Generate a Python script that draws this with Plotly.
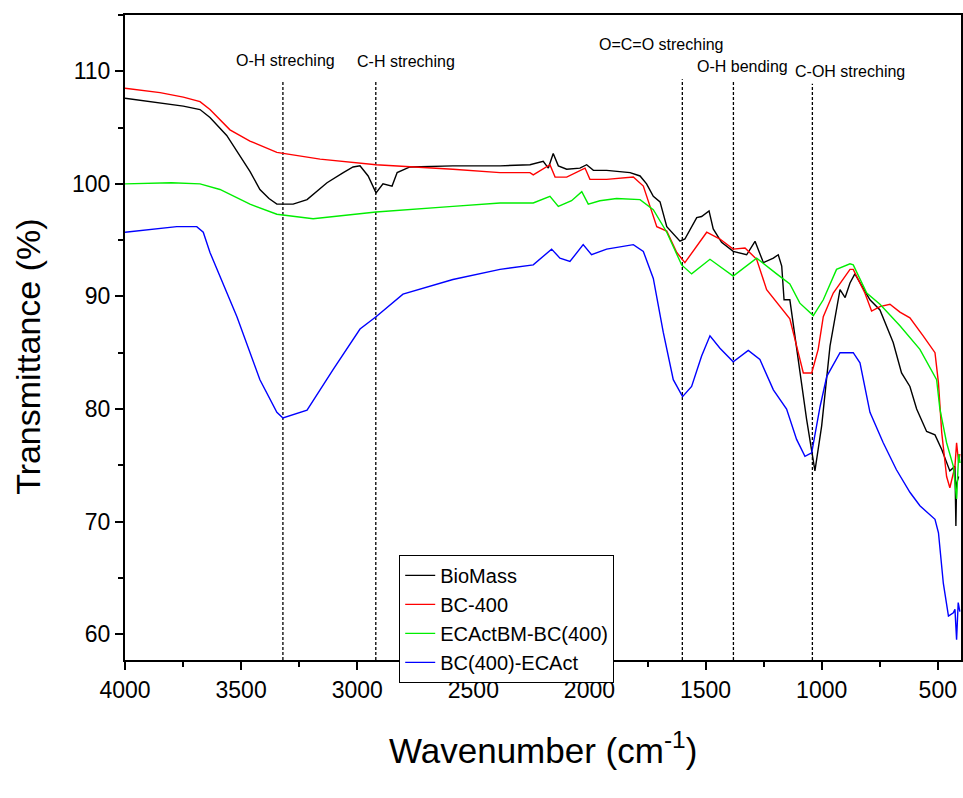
import plotly.graph_objects as go

# ---------------- data ----------------
bio_x = [4000, 3849, 3749, 3677, 3634, 3562, 3505, 3462, 3419, 3380, 3346, 3276, 3216, 3130, 3060, 3018, 2988,
         2953, 2919, 2889, 2850, 2828, 2773, 2588, 2385, 2256, 2199, 2177, 2156, 2134, 2098, 2041, 2012, 1983,
         1926, 1825, 1782, 1754, 1725, 1696, 1667, 1610, 1589, 1538, 1517, 1485, 1467, 1431, 1381, 1323, 1287,
         1251, 1208, 1187, 1172, 1162, 1137, 1094, 1065, 1029, 1000, 964, 921, 899, 878, 857, 792, 749, 692,
         656, 620, 591, 548, 512, 483, 448, 426, 422, 419, 410]
bio_y = [107.6, 107.2, 106.9, 106.6, 105.9, 104.3, 102.5, 101.1, 99.5, 98.7, 98.2, 98.2, 98.6, 100.1, 101.0, 101.5, 101.6,
         100.7, 99.2, 100.0, 99.8, 101.0, 101.5, 101.6, 101.6, 101.7, 102.0, 101.4, 102.7, 101.6, 101.3, 101.4, 101.7, 101.2,
         101.2, 101.0, 100.7, 100.0, 98.9, 98.4, 96.2, 94.9, 95.1, 97.0, 97.1, 97.6, 96.0, 94.8, 94.0, 93.7, 94.9,
         93.0, 93.4, 93.7, 92.7, 89.7, 89.7, 83.5, 79.1, 74.5, 78.5, 85.6, 90.6, 89.9, 91.2, 92.0, 89.7, 88.8, 85.9,
         83.2, 82.0, 80.0, 78.0, 77.7, 76.4, 74.5, 74.9, 69.6, 73.4, 74.0]

bc_x = [4000, 3849, 3749, 3677, 3634, 3548, 3462, 3346, 3160, 2919, 2588, 2385, 2256, 2242, 2170, 2148, 2098,
        2019, 1998, 1926, 1811, 1768, 1739, 1710, 1667, 1624, 1589, 1538, 1495, 1438, 1381, 1330, 1280, 1237,
        1180, 1137, 1108, 1079, 1043, 1015, 993, 950, 878, 864, 814, 785, 749, 706, 663, 620, 563, 512, 497,
        483, 462, 448, 426, 419, 410, 405]
bc_y = [108.5, 108.1, 107.7, 107.3, 106.6, 104.8, 103.8, 102.8, 102.2, 101.7, 101.3, 101.0, 101.0, 100.8, 101.7, 100.6, 100.6,
        101.4, 100.4, 100.4, 100.6, 99.8, 98.0, 96.2, 95.8, 93.9, 93.0, 94.5, 95.7, 95.1, 94.2, 94.3, 93.3, 90.6,
        89.1, 88.0, 85.6, 83.2, 83.2, 85.3, 88.2, 90.3, 92.4, 92.4, 90.3, 88.7, 89.1, 89.3, 88.6, 88.1, 86.5, 85.0, 82.3,
        77.9, 74.0, 73.0, 74.9, 77.0, 75.2, 76.0]

ec_x = [4000, 3800, 3677, 3591, 3462, 3346, 3190, 2919, 2588, 2385, 2242, 2170, 2134, 2077, 2033, 2005, 1955,
        1883, 1782, 1725, 1667, 1603, 1560, 1481, 1381, 1280, 1194, 1137, 1094, 1036, 993, 936, 878, 864, 806,
        749, 663, 577, 505, 491, 462, 433, 419, 410, 404]
ec_y = [100.0, 100.1, 100.0, 99.5, 98.2, 97.3, 96.9, 97.5, 98.0, 98.3, 98.3, 98.9, 98.0, 98.5, 99.3, 98.2, 98.5,
        98.7, 98.6, 97.7, 95.7, 92.8, 92.0, 93.3, 91.8, 93.4, 92.0, 91.1, 89.4, 88.3, 89.7, 92.4, 92.9, 92.8, 90.3,
        89.3, 87.4, 85.3, 82.6, 80.0, 77.0, 74.9, 72.0, 76.0, 75.2]

bl_x = [4000, 3849, 3777, 3691, 3663, 3634, 3518, 3419, 3346, 3320, 3216, 3104, 2988, 2919, 2803, 2588, 2385,
        2242, 2199, 2163, 2127, 2084, 2027, 1991, 1926, 1811, 1768, 1725, 1682, 1639, 1599, 1560, 1517, 1481,
        1438, 1381, 1316, 1266, 1208, 1151, 1108, 1072, 1043, 1007, 978, 921, 864, 835, 792, 735, 678, 620, 577,
        512, 497, 476, 454, 433, 426, 419, 412, 405]
bl_y = [95.7, 96.0, 96.2, 96.2, 95.7, 93.9, 88.2, 82.6, 79.7, 79.2, 79.9, 83.5, 87.1, 88.2, 90.2, 91.5, 92.4,
        92.8, 93.6, 94.2, 93.4, 93.1, 94.6, 93.7, 94.2, 94.6, 94.0, 91.6, 86.8, 82.6, 81.1, 82.0, 84.7, 86.5,
        85.4, 84.2, 85.2, 84.4, 81.7, 80.0, 77.3, 75.8, 76.1, 80.2, 82.9, 85.0, 85.0, 84.1, 79.7, 77.0, 74.6, 72.6, 71.4,
        70.2, 69.0, 64.5, 61.6, 61.9, 62.2, 59.5, 62.8, 62.0]

series_names = ["BioMass", "BC-400", "ECActBM-BC(400)", "BC(400)-ECAct"]
series_colors = ["#000000", "#ff0000", "#00ee00", "#0000ff"]

peak_x = [3320, 2920, 1600, 1380, 1040]
peak_top = [109.1, 109.1, 109.3, 109.2, 108.9]
peak_labels = ["O-H streching", "C-H streching", "O=C=O streching", "O-H bending", "C-OH streching"]
label_x = [3307, 2790, 1688, 1343, 878]
label_y = [111.0, 110.9, 112.4, 110.4, 110.0]

x_range = [4000, 400]
y_range = [57.7, 115]
x_ticks = [4000, 3500, 3000, 2500, 2000, 1500, 1000, 500]
y_ticks = [60, 70, 80, 90, 100, 110]

FONT = "Liberation Sans, Arial"

# ---------------- figure ----------------
fig = go.Figure()
for xs, ys, nm, col in zip([bio_x, bc_x, ec_x, bl_x], [bio_y, bc_y, ec_y, bl_y], series_names, series_colors):
    fig.add_trace(go.Scatter(x=xs, y=ys, mode="lines", name=nm, line=dict(color=col, width=1.4)))

for px, pt in zip(peak_x, peak_top):
    fig.add_shape(type="line", xref="x", yref="y", x0=px, x1=px, y0=y_range[0], y1=pt,
                  line=dict(color="black", width=1.3, dash="3px,2px"), layer="below")

for lx, ly, txt in zip(label_x, label_y, peak_labels):
    fig.add_annotation(x=lx, y=ly, xref="x", yref="y", text=txt, showarrow=False,
                       font=dict(family=FONT, size=16, color="black"))

# axis titles as paper-anchored text
fig.add_annotation(x=-0.116, y=0.47, xref="paper", yref="paper", text="Transmittance (%)",
                   textangle=-90, showarrow=False, xanchor="center", yanchor="middle",
                   font=dict(family=FONT, size=34, color="black"))
fig.add_annotation(x=0.5, y=-0.136, xref="paper", yref="paper", text="Wavenumber (cm<sup>-1</sup>)",
                   showarrow=False, xanchor="center", yanchor="middle",
                   font=dict(family=FONT, size=35, color="black"))

axis_common = dict(showline=True, linecolor="black", linewidth=2, mirror=True, ticks="outside",
                   ticklen=8, tickwidth=2, tickcolor="black", showgrid=False, zeroline=False,
                   automargin=False,
                   tickfont=dict(family=FONT, size=23, color="black"))

fig.update_layout(
    width=963, height=798,
    margin=dict(l=125, r=2, t=15, b=138),
    paper_bgcolor="white", plot_bgcolor="white",
    showlegend=True,
    legend=dict(x=0.328, y=0.163, xanchor="left", yanchor="top", bgcolor="white",
                bordercolor="black", borderwidth=1,
                font=dict(family=FONT, size=20, color="black"),
                tracegroupgap=0),
    xaxis=dict(range=x_range, tickvals=x_ticks,
               minor=dict(dtick=250, ticks="outside", ticklen=5, tickwidth=2, tickcolor="black"),
               **axis_common),
    yaxis=dict(range=y_range, tickvals=y_ticks,
               minor=dict(dtick=5, ticks="outside", ticklen=5, tickwidth=2, tickcolor="black"),
               **axis_common),
)

fig.write_html("out.html", config={"displayModeBar": False},
               post_script="document.body.style.margin='0';document.body.style.overflow='hidden';")
